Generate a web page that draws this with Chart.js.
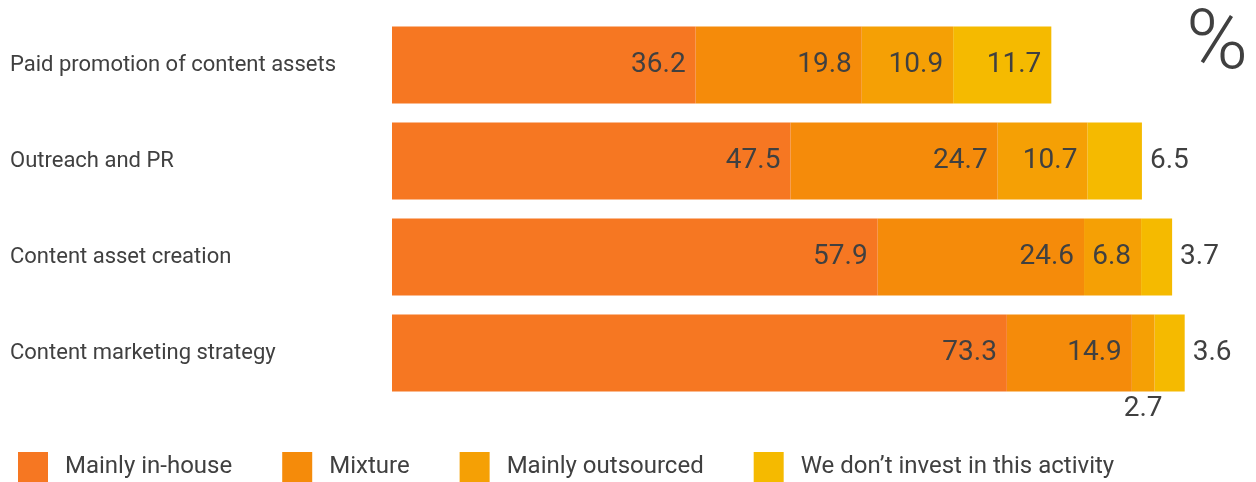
<!DOCTYPE html>
<html><head><meta charset="utf-8">
<script src="https://cdn.jsdelivr.net/npm/chart.js@4"></script>
<style>html,body{margin:0;padding:0;background:#fff;overflow:hidden;} #wrap{width:1256px;height:482px;position:relative;}</style>
</head><body><div id="wrap"><canvas id="c"></canvas></div>
<script>
const categories = ['Paid promotion of content assets', 'Outreach and PR', 'Content asset creation', 'Content marketing strategy'];
const seriesNames = ['Mainly in-house', 'Mixture', 'Mainly outsourced', 'We don\u2019t invest in this activity'];
const mainlyInHouse = [36.2, 47.5, 57.9, 73.3];
const mixture = [19.8, 24.7, 24.6, 14.9];
const mainlyOutsourced = [10.9, 10.7, 6.8, 2.7];
const dontInvest = [11.7, 6.5, 3.7, 3.6];
const unitLabel = '%';

const seriesValues = [mainlyInHouse, mixture, mainlyOutsourced, dontInvest];
const colors = ['#F67722', '#F58B0A', '#F5A005', '#F5BA00'];
const textColor = '#404040';
const FONT = 'Roboto, "Open Sans", sans-serif';

const labelPlugin = {
  id: 'valueLabels',
  afterDatasetsDraw(chart) {
    const ctx = chart.ctx;
    ctx.save();
    ctx.fillStyle = textColor;
    ctx.font = '28px ' + FONT;
    ctx.textBaseline = 'middle';
    const last = chart.data.datasets.length - 1;
    chart.data.datasets.forEach((ds, i) => {
      const meta = chart.getDatasetMeta(i);
      meta.data.forEach((el, j) => {
        const p = el.getProps(['x', 'y', 'base', 'height'], true);
        const v = ds.data[j];
        const txt = v.toFixed(1);
        if (i === last && v < 10) {
          ctx.textAlign = 'left';
          ctx.fillText(txt, p.x + 8, p.y);
        } else if (i !== last && v < 5) {
          ctx.textAlign = 'center';
          ctx.fillText(txt, (p.x + p.base) / 2, p.y + p.height / 2 + 18);
        } else {
          ctx.textAlign = 'right';
          ctx.fillText(txt, p.x - 10, p.y);
        }
      });
    });
    // unit sign
    ctx.font = '300 84px ' + FONT;
    ctx.textAlign = 'right';
    ctx.fillText(unitLabel, chart.width - 8, chart.chartArea.top + 30);
    ctx.restore();
  }
};

const legendPlugin = {
  id: 'customLegend',
  afterDraw(chart) {
    const ctx = chart.ctx;
    ctx.save();
    ctx.font = '24px ' + FONT;
    ctx.textBaseline = 'middle';
    ctx.textAlign = 'left';
    let x = 18;
    const cy = 467;
    chart.data.datasets.forEach((ds) => {
      ctx.fillStyle = ds.backgroundColor;
      ctx.fillRect(x, cy - 15, 30, 30);
      ctx.fillStyle = textColor;
      ctx.fillText(ds.label, x + 47, cy);
      x += 47 + ctx.measureText(ds.label).width + 50;
    });
    ctx.restore();
  }
};

new Chart(document.getElementById('c'), {
  type: 'bar',
  data: {
    labels: categories,
    datasets: seriesValues.map((vals, i) => ({
      label: seriesNames[i],
      data: vals,
      backgroundColor: colors[i],
      borderWidth: 0,
      barPercentage: 1,
      categoryPercentage: 0.8
    }))
  },
  options: {
    indexAxis: 'y',
    responsive: true,
    maintainAspectRatio: false,
    animation: false,
    layout: { padding: { left: 10, top: 17, right: 0, bottom: 81 } },
    plugins: { legend: { display: false }, tooltip: { enabled: false } },
    scales: {
      x: { stacked: true, min: 0, max: 103, display: false },
      y: {
        stacked: true,
        grid: { display: false },
        border: { display: false },
        ticks: { crossAlign: 'far', padding: 0, color: textColor, font: { family: FONT, size: 22 } },
        afterFit(scale) { scale.width = 382; }
      }
    }
  },
  plugins: [labelPlugin, legendPlugin]
});
</script>
</body></html>
